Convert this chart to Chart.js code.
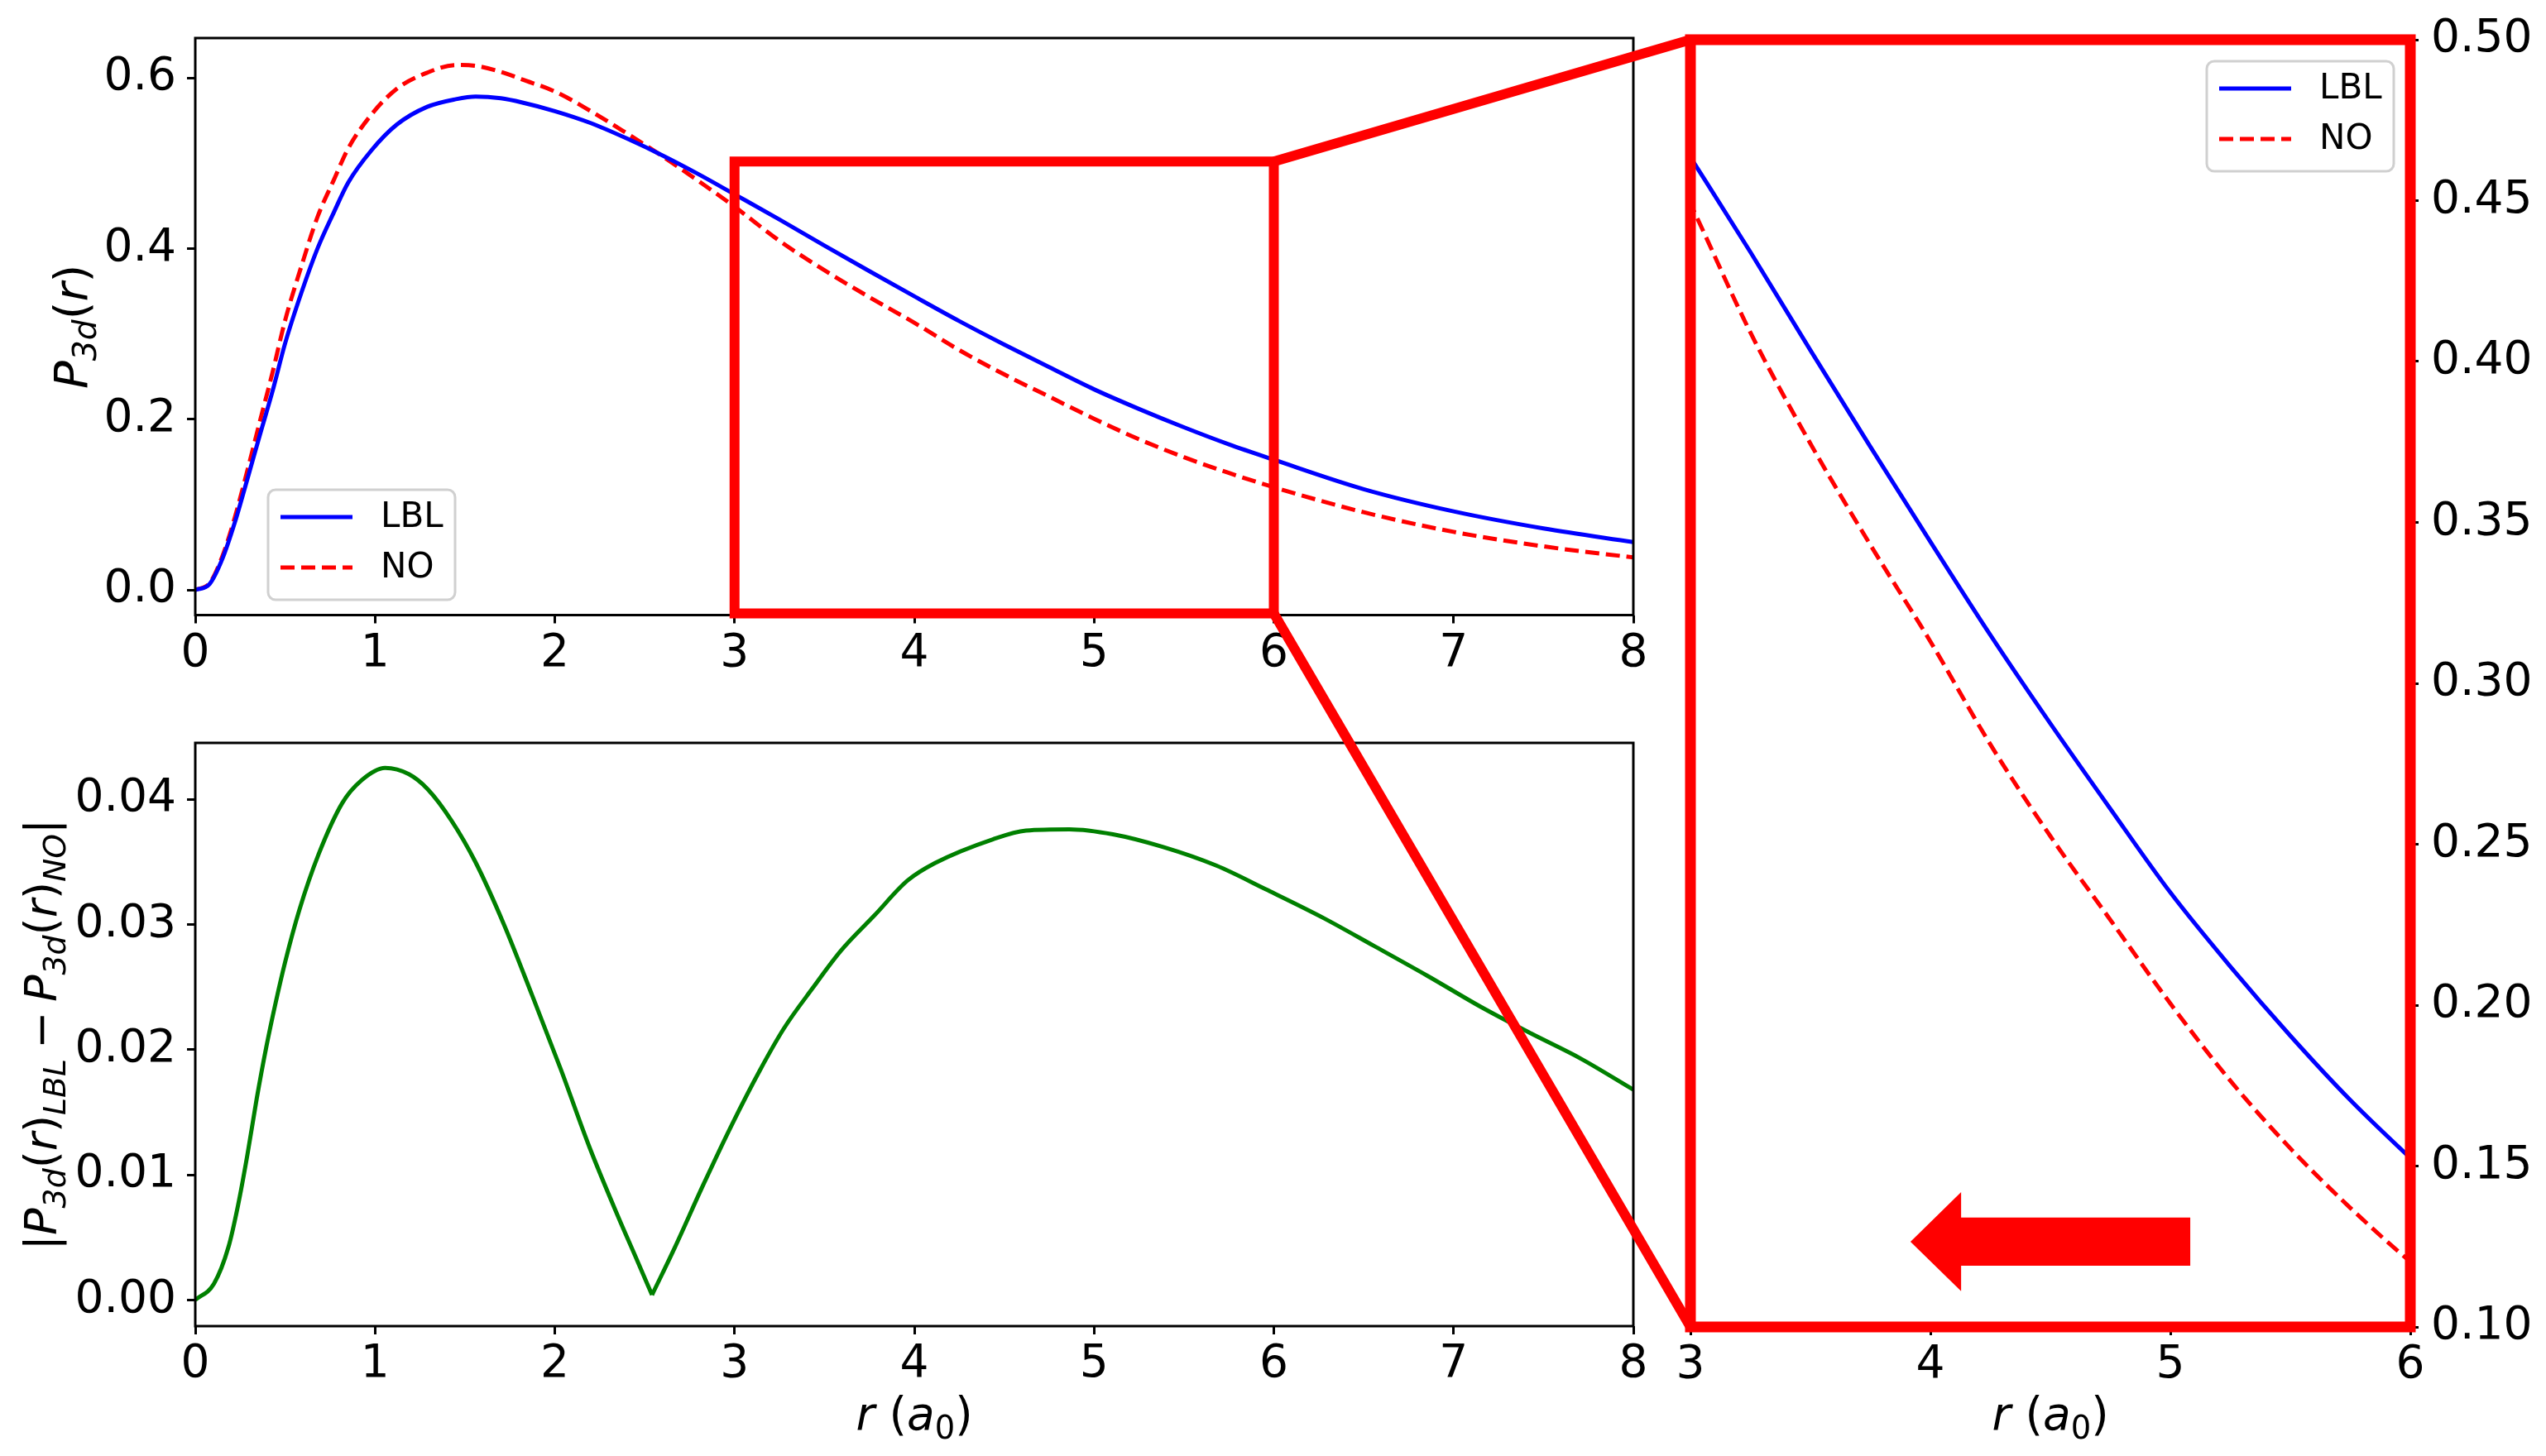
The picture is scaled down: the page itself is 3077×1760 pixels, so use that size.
<!DOCTYPE html>
<html>
<head>
<meta charset="utf-8">
<script src="https://cdn.jsdelivr.net/npm/chart.js@4.4.1/dist/chart.umd.min.js"></script>
<style>
  html, body { margin: 0; padding: 0; background: #fff; }
  #wrap { position: relative; width: 3077px; height: 1760px; background: #fff; }
  #wrap canvas { position: absolute; left: 0; top: 0; }
</style>
</head>
<body>
<div id="wrap">
  <canvas id="topChart" width="3077" height="1760"></canvas>
  <canvas id="bottomChart" width="3077" height="1760"></canvas>
  <canvas id="insetChart" width="3077" height="1760"></canvas>
  <canvas id="overlay" width="3077" height="1760"></canvas>
</div>
<script>
const rTop = [0, 0.08, 0.15, 0.22, 0.29, 0.36, 0.43, 0.5, 0.59, 0.68,
  0.77, 0.85, 0.98, 1.12, 1.29, 1.45, 1.56, 1.7, 1.82, 2.0,
  2.2, 2.4, 2.6, 2.8, 3.0, 3.25, 3.5, 3.75, 4.0, 4.25,
  4.5, 4.75, 5.0, 5.25, 5.5, 5.75, 6.0, 6.5, 7.0, 7.5, 8.0];
const pLBL = [0, 0.007, 0.036, 0.079, 0.130, 0.182, 0.233, 0.289, 0.348, 0.400,
  0.442, 0.477, 0.515, 0.545, 0.566, 0.575, 0.578, 0.576, 0.571, 0.561,
  0.547, 0.529, 0.509, 0.487, 0.4635, 0.434, 0.4035, 0.3735, 0.344, 0.315,
  0.2875, 0.261, 0.235, 0.212, 0.1905, 0.1705, 0.1525, 0.118, 0.092, 0.072, 0.056];
const pNO = [0, 0.008, 0.039, 0.085, 0.140, 0.198, 0.255, 0.316, 0.379, 0.437,
  0.480, 0.517, 0.557, 0.587, 0.606, 0.615, 0.614, 0.607, 0.598, 0.584,
  0.561, 0.535, 0.508, 0.479, 0.449, 0.409, 0.3745, 0.343, 0.313, 0.281,
  0.2525, 0.2265, 0.2005, 0.1765, 0.1555, 0.137, 0.1203, 0.091, 0.068, 0.051, 0.038];

// |P_LBL - P_NO|
const rDiff = [0, 0.104, 0.184, 0.237, 0.29, 0.342, 0.395, 0.448, 0.5, 0.58,
  0.686, 0.818, 0.924, 1.056, 1.188, 1.293, 1.425, 1.558, 1.717, 1.875,
  2.034, 2.193, 2.351, 2.457, 2.541, 2.668, 2.826, 2.985, 3.143, 3.275,
  3.434, 3.592, 3.777, 3.962, 4.115, 4.437, 4.621, 4.863, 5.105, 5.381,
  5.68, 5.956, 6.278, 6.555, 6.854, 7.153, 7.429, 7.705, 8.0];
const pDiff = [0, 0.0013, 0.0042, 0.0075, 0.0116, 0.0161, 0.0202, 0.0238, 0.0270, 0.0312,
  0.0356, 0.0397, 0.0415, 0.0425, 0.0420, 0.0408, 0.0383, 0.0350, 0.0300, 0.0243,
  0.0184, 0.0122, 0.0067, 0.0032, 0.0004, 0.0042, 0.0092, 0.0140, 0.0184, 0.0217,
  0.0249, 0.0279, 0.0307, 0.0335, 0.0349, 0.0368, 0.0375, 0.0376, 0.0372, 0.0362,
  0.0347, 0.0328, 0.0305, 0.0283, 0.0259, 0.0234, 0.0213, 0.0193, 0.0168];
const diffMinR = 2.541;

const seriesNames = ['LBL', 'NO'];
const zoomX = [3, 6];
const zoomY = [0.1, 0.5];
// arrow in the zoomed panel, data coordinates
const arrowTail = 5.083, arrowNeck = 4.128, arrowTip = 3.917;
const arrowY = 0.1265, arrowShaftHalf = 0.0075, arrowHeadHalf = 0.0154;

const FONT = '"DejaVu Sans", "Liberation Sans", sans-serif';
const TICK_SIZE = 55;
Chart.defaults.font.family = FONT;
Chart.defaults.color = '#000';

function pts(xs, ys) { return xs.map((x, i) => ({ x: x, y: ys[i] })); }

// small mathtext-like writer: parts are {t, it, sub, pad}
function mathWidth(ctx, parts, size) {
  let w = 0;
  parts.forEach(p => {
    const s = p.sub ? size * 0.7 : size;
    ctx.font = (p.it ? 'italic ' : '') + s + 'px ' + FONT;
    w += ctx.measureText(p.t).width + (p.pad || 0) * size * 2;
  });
  return w;
}
function drawMath(ctx, parts, size, cx, cy, rot) {
  ctx.save();
  ctx.translate(cx, cy);
  if (rot) ctx.rotate(rot);
  let x = -mathWidth(ctx, parts, size) / 2;
  ctx.fillStyle = '#000';
  ctx.textBaseline = 'alphabetic';
  ctx.textAlign = 'left';
  parts.forEach(p => {
    const s = p.sub ? size * 0.7 : size;
    ctx.font = (p.it ? 'italic ' : '') + s + 'px ' + FONT;
    x += (p.pad || 0) * size;
    ctx.fillText(p.t, x, p.sub ? size * 0.2 : 0);
    x += ctx.measureText(p.t).width + (p.pad || 0) * size;
  });
  ctx.restore();
}

const xLabelParts = [{ t: 'r', it: true }, { t: ' (' }, { t: 'a', it: true }, { t: '0', sub: true }, { t: ')' }];
const topYLabelParts = [{ t: 'P', it: true }, { t: '3d', it: true, sub: true }, { t: '(' }, { t: 'r', it: true }, { t: ')' }];
const bottomYLabelParts = [{ t: '|' }, { t: 'P', it: true }, { t: '3d', it: true, sub: true }, { t: '(' }, { t: 'r', it: true }, { t: ')' },
  { t: 'LBL', it: true, sub: true }, { t: '\u2212', pad: 0.22 }, { t: 'P', it: true }, { t: '3d', it: true, sub: true },
  { t: '(' }, { t: 'r', it: true }, { t: ')' }, { t: 'NO', it: true, sub: true }, { t: '|' }];

function drawLegend(ctx, bx, by, datasets) {
  const w = 226, h = 133, rad = 9;
  ctx.save();
  ctx.beginPath();
  ctx.roundRect(bx, by, w, h, rad);
  ctx.fillStyle = 'rgba(255,255,255,0.8)';
  ctx.fill();
  ctx.lineWidth = 3;
  ctx.strokeStyle = '#d0d0d0';
  ctx.stroke();
  datasets.forEach((ds, i) => {
    const y = by + 33 + i * 61;
    ctx.beginPath();
    ctx.setLineDash(ds.borderDash || []);
    ctx.strokeStyle = ds.borderColor;
    ctx.lineWidth = ds.borderWidth;
    ctx.moveTo(bx + 15, y);
    ctx.lineTo(bx + 102, y);
    ctx.stroke();
    ctx.setLineDash([]);
    ctx.fillStyle = '#000';
    ctx.font = '42px ' + FONT;
    ctx.textBaseline = 'middle';
    ctx.textAlign = 'left';
    ctx.fillText(ds.label, bx + 136, y + 1);
  });
  ctx.restore();
}

function frame(color, width) {
  return {
    id: 'frame',
    afterDraw(chart) {
      const a = chart.chartArea, ctx = chart.ctx;
      ctx.save();
      ctx.strokeStyle = color;
      ctx.lineWidth = width;
      ctx.lineJoin = 'miter';
      ctx.strokeRect(a.left, a.top, a.right - a.left, a.bottom - a.top);
      ctx.restore();
    }
  };
}

function lineSets(rs, a, b) {
  return [
    { label: seriesNames[0], data: pts(rs, a), borderColor: '#0000ff', borderWidth: 5,
      pointRadius: 0, cubicInterpolationMode: 'monotone', fill: false },
    { label: seriesNames[1], data: pts(rs, b), borderColor: '#ff0000', borderWidth: 5,
      borderDash: [17, 8], pointRadius: 0, cubicInterpolationMode: 'monotone', fill: false }
  ];
}

function tickGrid() {
  return { drawOnChartArea: false, drawTicks: true, tickLength: 10, tickWidth: 3, tickColor: '#000' };
}

function xScale(min, max) {
  return {
    type: 'linear', min: min, max: max,
    border: { display: false },
    grid: tickGrid(),
    ticks: { stepSize: 1, font: { size: TICK_SIZE }, color: '#000', padding: 4, maxRotation: 0, autoSkip: false,
      includeBounds: false, callback: v => String(v) },
    afterFit: s => { s.height = 100; }
  };
}

function yScale(min, max, step, digits, position, pad) {
  return {
    type: 'linear', position: position, min: min, max: max,
    border: { display: false },
    grid: tickGrid(),
    ticks: { stepSize: step, font: { size: TICK_SIZE }, color: '#000', padding: pad, includeBounds: false,
      callback: v => v.toFixed(digits) },
    afterFit: s => { s.width = 150; }
  };
}

const baseOpts = {
  responsive: false, animation: false, devicePixelRatio: 1,
  plugins: { legend: { display: false }, tooltip: { enabled: false } }
};

// ---- top panel ----
const topChart = new Chart(document.getElementById('topChart'), {
  type: 'line',
  data: { datasets: lineSets(rTop, pLBL, pNO) },
  options: Object.assign({}, baseOpts, {
    layout: { padding: { left: 86, top: 38, right: 1103, bottom: 1760 - 743.5 - 100 } },
    scales: { x: xScale(0, 8), y: yScale(-0.0295, 0.6466, 0.2, 1, 'left', 13) }
  }),
  plugins: [frame('#000', 3), {
    id: 'legendBox',
    afterDraw(chart) {
      const a = chart.chartArea;
      drawLegend(chart.ctx, a.left + 88, a.bottom - 18.5 - 133, chart.data.datasets);
    }
  }]
});

// ---- bottom panel (split at the cusp so it stays sharp) ----
const vIdx = rDiff.indexOf(diffMinR);
const bottomChart = new Chart(document.getElementById('bottomChart'), {
  type: 'line',
  data: {
    datasets: [
      { label: 'diff', data: pts(rDiff.slice(0, vIdx + 1), pDiff.slice(0, vIdx + 1)), borderColor: '#008000',
        borderWidth: 5, pointRadius: 0, cubicInterpolationMode: 'monotone' },
      { label: 'diff', data: pts(rDiff.slice(vIdx), pDiff.slice(vIdx)), borderColor: '#008000',
        borderWidth: 5, pointRadius: 0, cubicInterpolationMode: 'monotone' }
    ]
  },
  options: Object.assign({}, baseOpts, {
    layout: { padding: { left: 86, top: 898, right: 1103, bottom: 1760 - 1603 - 100 } },
    scales: { x: xScale(0, 8), y: yScale(-0.00209, 0.0445, 0.01, 2, 'left', 13) }
  }),
  plugins: [frame('#000', 3)]
});

// ---- zoomed panel ----
const insetChart = new Chart(document.getElementById('insetChart'), {
  type: 'line',
  data: { datasets: lineSets(rTop, pLBL, pNO) },
  options: Object.assign({}, baseOpts, {
    layout: { padding: { left: 2043, top: 36, right: 3077 - 2913 - 150, bottom: 1760 - 1604 - 100 } },
    scales: { x: xScale(zoomX[0], zoomX[1]), y: yScale(zoomY[0], zoomY[1], 0.05, 2, 'right', 15) }
  }),
  plugins: [{
    id: 'arrow',
    afterDatasetsDraw(chart) {
      const sx = chart.scales.x, sy = chart.scales.y, ctx = chart.ctx;
      ctx.save();
      ctx.beginPath();
      ctx.moveTo(sx.getPixelForValue(arrowTail), sy.getPixelForValue(arrowY + arrowShaftHalf));
      ctx.lineTo(sx.getPixelForValue(arrowNeck), sy.getPixelForValue(arrowY + arrowShaftHalf));
      ctx.lineTo(sx.getPixelForValue(arrowNeck), sy.getPixelForValue(arrowY + arrowHeadHalf));
      ctx.lineTo(sx.getPixelForValue(arrowTip), sy.getPixelForValue(arrowY));
      ctx.lineTo(sx.getPixelForValue(arrowNeck), sy.getPixelForValue(arrowY - arrowHeadHalf));
      ctx.lineTo(sx.getPixelForValue(arrowNeck), sy.getPixelForValue(arrowY - arrowShaftHalf));
      ctx.lineTo(sx.getPixelForValue(arrowTail), sy.getPixelForValue(arrowY - arrowShaftHalf));
      ctx.closePath();
      ctx.fillStyle = '#ff0000';
      ctx.fill();
      ctx.restore();
      const a = chart.chartArea;
      drawLegend(ctx, a.right - 20 - 226, a.top + 26, chart.data.datasets);
    }
  }, frame('#ff0000', 13)]
});

// ---- overlay: zoom box, connectors and axis labels ----
(function () {
  const ctx = document.getElementById('overlay').getContext('2d');
  const tx = topChart.scales.x, ty = topChart.scales.y;
  const ix = insetChart.scales.x, iy = insetChart.scales.y;
  const x1 = tx.getPixelForValue(zoomX[0]), x2 = tx.getPixelForValue(zoomX[1]);
  const y1 = ty.getPixelForValue(zoomY[1]) - 2, y2 = ty.getPixelForValue(ty.min) - 2;
  ctx.save();
  ctx.strokeStyle = '#ff0000';
  ctx.lineWidth = 12;
  ctx.lineJoin = 'miter';
  ctx.strokeRect(x1, y1, x2 - x1, y2 - y1);
  ctx.beginPath();
  ctx.moveTo(x2, y1);
  ctx.lineTo(ix.getPixelForValue(zoomX[0]), iy.getPixelForValue(zoomY[1]));
  ctx.moveTo(x2, y2);
  ctx.lineTo(ix.getPixelForValue(zoomX[0]), iy.getPixelForValue(zoomY[0]));
  ctx.stroke();
  ctx.restore();

  const ta = topChart.chartArea, ba = bottomChart.chartArea, ia = insetChart.chartArea;
  drawMath(ctx, xLabelParts, 55, (ba.left + ba.right) / 2, 1728, 0);
  drawMath(ctx, xLabelParts, 55, (ia.left + ia.right) / 2, 1728, 0);
  drawMath(ctx, topYLabelParts, 56, 105, (ta.top + ta.bottom) / 2, -Math.PI / 2);
  drawMath(ctx, bottomYLabelParts, 54, 68, (ba.top + ba.bottom) / 2, -Math.PI / 2);
})();
</script>
</body>
</html>
